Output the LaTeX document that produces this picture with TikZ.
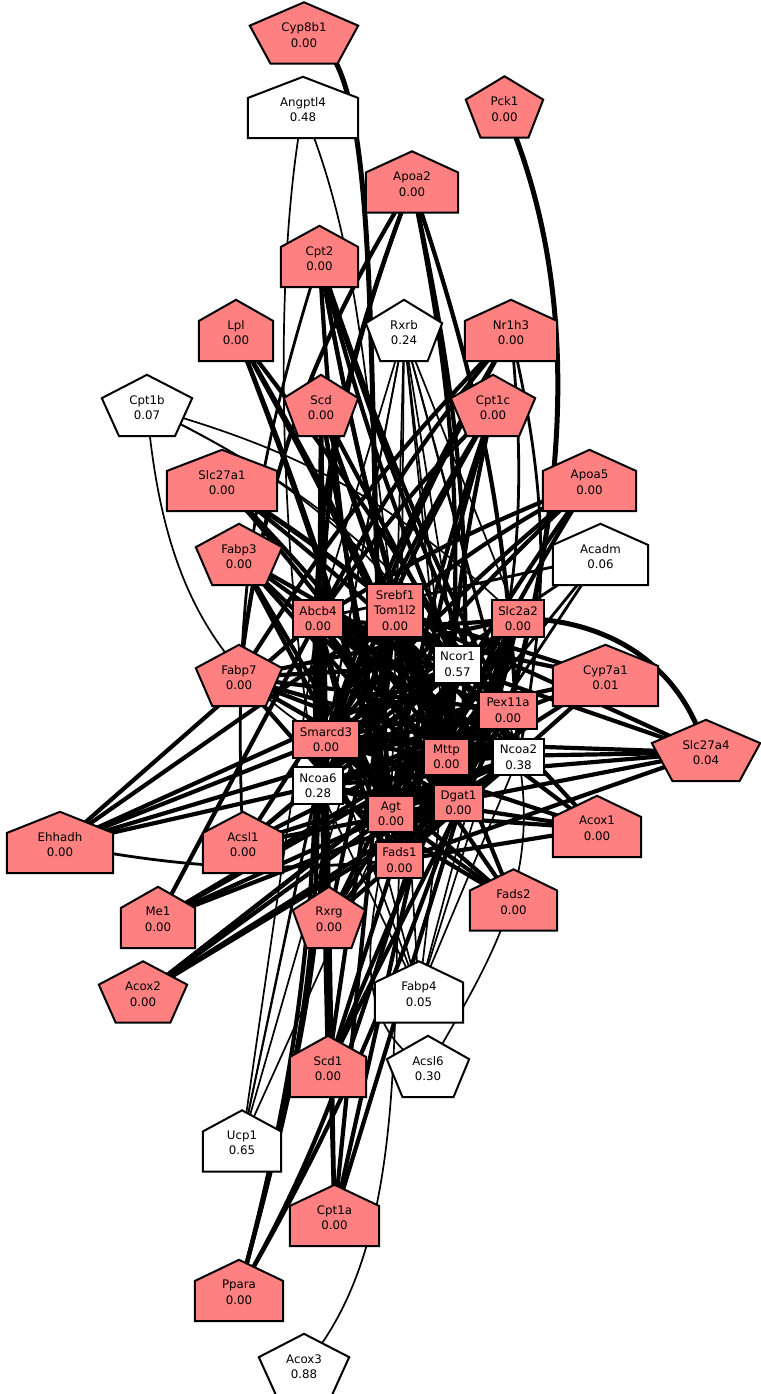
\documentclass[tikz,border=0pt]{standalone}
\usepackage{fontspec}
\setmainfont{DejaVu Sans}
\usetikzlibrary{calc}
\definecolor{hit}{HTML}{FF8080}
\pgfdeclarelayer{edges}
\pgfdeclarelayer{shapes}
\pgfsetlayers{edges,shapes,main}
\tikzset{
  gnode/.style={rectangle, inner sep=0pt, minimum height=61pt, align=center, font=\fontsize{11.8}{15.5}\selectfont},
  boxnode/.style={gnode, draw, line width=1.6pt},
  outline/.style={draw, line width=2pt, line join=miter},
  heavy/.style={line width=4.2pt},
  medium/.style={line width=2.8pt},
  light/.style={line width=1.7pt}
}

\begin{document}
\begin{tikzpicture}[x=1pt,y=1pt]
\useasboundingbox (0,0) rectangle (760,-1394);

\foreach \n/\x/\y/\w/\col/\lab in {
  cyp8b1/304/33/108/hit/{Cyp8b1\\0.00}, pck1/504.5/107/77/hit/{Pck1\\0.00},
  rxrb/404/330.5/76/white/{Rxrb\\0.24}, cpt1b/147/405.5/90/white/{Cpt1b\\0.07},
  scd/321/405.5/74/hit/{Scd\\0.00}, cpt1c/493/405.5/84/hit/{Cpt1c\\0.00},
  fabp3/239/554.5/86/hit/{Fabp3\\0.00}, fabp7/239/675.5/86/hit/{Fabp7\\0.00},
  slc27a4/706/750.5/108/hit/{Slc27a4\\0.04}, rxrg/329/917.5/72/hit/{Rxrg\\0.00},
  acox2/143/992/88/hit/{Acox2\\0.00}, acsl6/428/1066.5/82/white/{Acsl6\\0.30},
  acox3/304/1364.5/90/white/{Acox3\\0.88}} {
  \node[gnode, minimum width=\w pt] (\n) at (\x,-\y-2) {\lab};
  \begin{pgfonlayer}{shapes}
    \draw[outline, fill=\col] ($(\n.north)+(0,2)$) -- ($(\n.north east)!0.38!(\n.south east)+(0,2)$)
      -- ($(\n.south)!0.618!(\n.south east)+(0,2)$) -- ($(\n.south)!0.618!(\n.south west)+(0,2)$)
      -- ($(\n.north west)!0.38!(\n.south west)+(0,2)$) -- cycle;
  \end{pgfonlayer}
}

\foreach \n/\x/\y/\w/\col/\lab in {
  angptl4/303/107.5/110/white/{Angptl4\\0.48}, apoa2/412/182/92/hit/{Apoa2\\0.00},
  cpt2/319.5/256.5/77/hit/{Cpt2\\0.00}, nr1h3/511/330.5/92/hit/{Nr1h3\\0.00},
  lpl/236/330.5/74/hit/{Lpl\\0.00}, slc27a1/222/480.5/110/hit/{Slc27a1\\0.00},
  apoa5/589.5/480.5/93/hit/{Apoa5\\0.00}, acadm/600.5/554.5/95/white/{Acadm\\0.06},
  cyp7a1/605.5/675.5/105/hit/{Cyp7a1\\0.01}, acox1/597/826.5/88/hit/{Acox1\\0.00},
  ehhadh/60/842.5/106/hit/{Ehhadh\\0.00}, acsl1/243/842.5/80/hit/{Acsl1\\0.00},
  fads2/513.5/900/87/hit/{Fads2\\0.00}, me1/158/917.5/74/hit/{Me1\\0.00},
  fabp4/419/992/88/white/{Fabp4\\0.05}, scd1/328/1066.5/76/hit/{Scd1\\0.00},
  ucp1/242/1141/78/white/{Ucp1\\0.65}, cpt1a/334.5/1215.5/89/hit/{Cpt1a\\0.00},
  ppara/239/1290.5/88/hit/{Ppara\\0.00}} {
  \node[gnode, minimum width=\w pt] (\n) at (\x,-\y-2) {\lab};
  \begin{pgfonlayer}{shapes}
    \draw[outline, fill=\col] ($(\n.north)+(0,2)$) -- ($(\n.north east)!0.345!(\n.south east)+(0,2)$)
      -- ($(\n.south east)+(0,2)$) -- ($(\n.south west)+(0,2)$)
      -- ($(\n.north west)!0.345!(\n.south west)+(0,2)$) -- cycle;
  \end{pgfonlayer}
}

\foreach \n/\x/\y/\w/\h/\col/\lab in {
  abcb4/318/618.5/50/37/hit/{Abcb4\\0.00}, srebf/395/610.5/56/53/hit/{Srebf1\\Tom1l2\\0.00},
  slc2a2/518/618.5/52/37/hit/{Slc2a2\\0.00}, ncor1/457.5/664.5/47/37/white/{Ncor1\\0.57},
  pex11a/508/710.5/58/37/hit/{Pex11a\\0.00}, smarcd3/326/739.5/66/37/hit/{Smarcd3\\0.00},
  mttp/446.5/757/45/36/hit/{Mttp\\0.00}, ncoa2/518.5/757/51/36/white/{Ncoa2\\0.38},
  ncoa6/318/785.5/50/37/white/{Ncoa6\\0.28}, agt/391/814/46/36/hit/{Agt\\0.00},
  dgat1/458.5/803/49/36/hit/{Dgat1\\0.00}, fads1/399.5/860/47/36/hit/{Fads1\\0.00}}
  \node[boxnode, fill=\col, minimum width=\w pt, minimum height=\h pt] (\n) at (\x,-\y) {\lab};

\begin{pgfonlayer}{edges}
\foreach \b in {mttp,agt,ncoa2,dgat1,fads1,ncoa6,smarcd3,pex11a,ncor1} \draw[heavy] (srebf.center) to[bend left=8] (\b.center);
\foreach \b in {slc2a2,ncoa2,dgat1,mttp,pex11a,fads1,agt,ncor1} \draw[heavy] (abcb4.center) to[bend right=6] (\b.center);
\foreach \b in {smarcd3,ncoa6,agt,fads1,mttp,dgat1} \draw[heavy] (slc2a2.center) to[bend left=6] (\b.center);
\foreach \b in {smarcd3,ncoa6,fads1,agt,dgat1} \draw[heavy] (ncor1.center) to[bend right=8] (\b.center);
\foreach \b in {smarcd3,ncoa6,fads1,agt,mttp} \draw[heavy] (pex11a.center) to[bend left=6] (\b.center);
\foreach \b in {smarcd3,ncoa6,agt,fads1} \draw[heavy] (ncoa2.center) to[bend right=6] (\b.center);
\foreach \b in {ncoa6,smarcd3,fads1} \draw[heavy] (mttp.center) -- (\b.center);
\foreach \b in {smarcd3,ncoa6,agt} \draw[heavy] (dgat1.center) to[bend left=8] (\b.center);

\draw[line width=5pt] (cyp8b1.center) .. controls (395,-45) and (358,-450) .. (agt.center);
\draw[light] (angptl4.center) .. controls (268,-300) and (285,-600) .. (ncoa6.center);
\draw[light] (angptl4.center) .. controls (362,-250) and (365,-400) .. (srebf.center);
\draw[line width=5pt] (pck1.center) .. controls (578,-280) and (572,-480) .. (pex11a.center);
\foreach \b in {smarcd3,ncoa6,fabp7} \draw[heavy] (apoa2.center) to[bend right=12] (\b.center);
\foreach \b in {mttp,dgat1,ncoa2} \draw[heavy] (apoa2.center) to[bend left=8] (\b.center);
\draw[medium] (cpt2.center) to[bend right=10] (acsl1.center);
\foreach \b in {mttp,dgat1,ncoa2,pex11a,ncor1,agt} \draw[heavy] (cpt2.center) to[bend right=4] (\b.center);
\foreach \b in {mttp,dgat1,agt,fads1,ncoa2} \draw[heavy] (lpl.center) to[bend left=4] (\b.center);
\foreach \b in {abcb4,smarcd3,ncoa6,agt,fads1,mttp,dgat1,ncor1,pex11a,ncoa2,slc2a2} \draw[light] (rxrb.center) -- (\b.center);
\foreach \b in {abcb4,smarcd3,fabp7,ncoa6} \draw[heavy] (nr1h3.center) to[bend right=6] (\b.center);
\foreach \b in {ncoa2,dgat1} \draw[medium] (nr1h3.center) to[bend left=12] (\b.center);
\foreach \b in {ncor1,pex11a,slc2a2} \draw[light] (cpt1b.center) to[bend left=14] (\b.center);
\draw[light] (cpt1b.center) to[out=-85,in=150] (smarcd3.center);
\foreach \b in {ncoa6,agt,fads1,mttp,ncor1,dgat1,smarcd3} \draw[heavy] (scd.center) -- (\b.center);
\foreach \b in {smarcd3,ncoa6,agt,fads1,abcb4,mttp} \draw[heavy] (cpt1c.center) to[bend right=5] (\b.center);
\foreach \b in {ncor1,mttp,pex11a,dgat1,ncoa2} \draw[heavy] (slc27a1.center) to[bend left=5] (\b.center);
\foreach \b in {abcb4,smarcd3,agt,ncoa6,fads1,srebf} \draw[heavy] (apoa5.center) to[bend right=5] (\b.center);
\foreach \b in {mttp,agt,dgat1,ncoa2,fads1,pex11a} \draw[heavy] (fabp3.center) -- (\b.center);
\foreach \b in {smarcd3,agt,fads1,abcb4} \draw[medium] (acadm.center) -- (\b.center);
\foreach \b in {slc2a2,ncor1,mttp,dgat1,fads1,ncoa2,pex11a} \draw[heavy] (fabp7.center) -- (\b.center);
\foreach \b in {abcb4,smarcd3,ncoa6,agt,fads1,srebf} \draw[heavy] (cyp7a1.center) -- (\b.center);
\foreach \b in {abcb4,smarcd3,agt,ncoa6,fads1,mttp,srebf} \draw[heavy] (slc27a4.center) -- (\b.center);
\draw[line width=5pt] (slc27a4.center) to[out=105,in=0] (slc2a2.center);
\foreach \b in {abcb4,smarcd3,ncoa6,agt,srebf,fads1} \draw[heavy] (acox1.center) -- (\b.center);
\foreach \b in {abcb4,srebf,smarcd3,ncor1,mttp,pex11a} \draw[heavy] (ehhadh.center) -- (\b.center);
\draw[medium] (ehhadh.center) to[bend right=8] (fads1.center);
\foreach \b in {slc2a2,ncor1,pex11a,ncoa2,dgat1,srebf} \draw[heavy] (acsl1.center) -- (\b.center);
\foreach \b in {abcb4,smarcd3,srebf,ncoa6,agt} \draw[heavy] (fads2.center) -- (\b.center);
\foreach \b in {mttp,dgat1,ncoa2,pex11a,abcb4} \draw[heavy] (me1.center) -- (\b.center);
\foreach \b in {slc2a2,ncor1,pex11a,srebf,ncoa2,abcb4} \draw[heavy] (rxrg.center) -- (\b.center);
\foreach \b in {dgat1,mttp,ncoa2,pex11a,agt} \draw[heavy] (acox2.center) -- (\b.center);
\foreach \b in {abcb4,smarcd3,srebf,slc2a2,ncor1,pex11a,ncoa2,ncoa6} \draw[light] (fabp4.center) -- (\b.center);
\draw[light] (acsl6.center) to[out=150,in=-100] (agt.center);
\draw[light] (acsl6.center) to[out=60,in=-80] (ncoa2.center);
\foreach \b in {abcb4,srebf,slc2a2,ncor1,pex11a,smarcd3} \draw[heavy] (scd1.center) -- (\b.center);
\foreach \b in {smarcd3,abcb4,srebf,ncoa6,agt} \draw[light] (ucp1.center) -- (\b.center);
\foreach \b in {srebf,slc2a2,ncor1,abcb4,smarcd3} \draw[heavy] (cpt1a.center) -- (\b.center);
\foreach \b in {abcb4,smarcd3,ncoa6} \draw[heavy] (ppara.center) to[out=75,in=-90] (\b.center);
\foreach \b in {dgat1,mttp} \draw[heavy] (ppara.center) to[out=60,in=-110] (\b.center);
\draw[light] (acox3.center) .. controls (405,-1250) and (392,-1050) .. (fads1.center);
\end{pgfonlayer}
\end{tikzpicture}
\end{document}
